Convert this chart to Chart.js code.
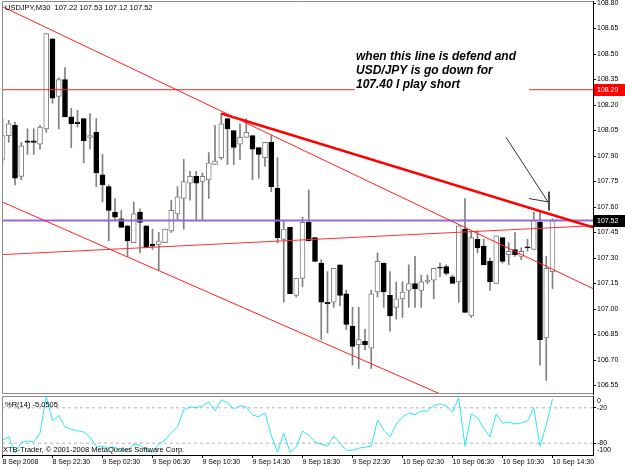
<!DOCTYPE html>
<html>
<head>
<meta charset="utf-8">
<script src="https://cdn.jsdelivr.net/npm/chart.js@4.4.1/dist/chart.umd.min.js"></script>
<style>
  html, body { margin: 0; padding: 0; background: #fff; }
  #wrap { position: relative; width: 625px; height: 469px; overflow: hidden; }
  canvas { position: absolute; left: 0; }
  #main { top: 0; }
  #wpr { top: 395px; }
</style>
</head>
<body>
<div id="wrap">
  <canvas id="main" width="625" height="395"></canvas>
  <canvas id="wpr" width="625" height="74"></canvas>
</div>
<script>
// USDJPY M30, 8 Sep 18:30 .. 10 Sep 14:30
const symbolTitle = 'USDJPY,M30  107.22 107.53 107.12 107.52';
const timeLabels = ['8 Sep 2008', '8 Sep 22:30', '9 Sep 02:30', '9 Sep 06:30', '9 Sep 10:30', '9 Sep 14:30',
    '9 Sep 18:30', '9 Sep 22:30', '10 Sep 02:30', '10 Sep 06:30', '10 Sep 10:30', '10 Sep 14:30'];
const timeLabelBars = [0, 8, 16, 24, 32, 40, 48, 56, 64, 72, 80, 88];

const opens = [107.88, 108.02, 108.08, 107.78, 107.99, 107.99, 107.97, 108.06, 108.59, 108.25,
    108.35, 108.13, 108.10, 108.12, 108.01, 108.04, 107.79, 107.72, 107.57, 107.53,
    107.49, 107.39, 107.57, 107.49, 107.38, 107.38, 107.39, 107.46, 107.56, 107.65,
    107.74, 107.78, 107.75, 107.76, 107.85, 107.89, 108.12, 108.05, 107.97, 108.01,
    108.02, 107.95, 107.89, 107.98, 107.71, 107.41, 107.48, 107.08, 107.18, 107.51,
    107.42, 107.27, 107.04, 107.04, 107.26, 107.09, 106.90, 106.79, 106.81, 106.77,
    107.10, 107.27, 107.08, 107.01, 107.06, 107.11, 107.15, 107.11, 107.16, 107.17,
    107.24, 107.25, 107.19, 107.16, 107.47, 106.96, 107.41, 107.37, 107.28, 107.15,
    107.42, 107.32, 107.35, 107.31, 107.36, 107.35, 107.51, 106.83, 107.22];
const highs = [108.12, 108.11, 108.10, 107.98, 108.06, 108.06, 108.08, 108.62, 108.59, 108.36,
    108.42, 108.18, 108.17, 108.12, 108.15, 108.12, 107.91, 107.73, 107.65, 107.58,
    107.49, 107.63, 107.59, 107.49, 107.47, 107.45, 107.47, 107.64, 107.72, 107.88,
    107.81, 107.81, 107.80, 107.92, 108.08, 108.15, 108.12, 108.05, 108.09, 108.12,
    108.02, 107.95, 107.98, 108.02, 107.89, 107.52, 107.48, 107.18, 107.54, 107.70,
    107.42, 107.29, 107.22, 107.24, 107.26, 107.11, 107.01, 107.01, 106.88, 107.11,
    107.33, 107.27, 107.22, 107.16, 107.16, 107.26, 107.31, 107.20, 107.20, 107.24,
    107.27, 107.26, 107.20, 107.49, 107.65, 107.46, 107.46, 107.41, 107.30, 107.43,
    107.42, 107.39, 107.45, 107.36, 107.41, 107.57, 107.57, 107.31, 107.53];
const lows = [107.86, 107.98, 107.73, 107.76, 107.91, 107.91, 107.94, 108.04, 108.21, 108.06,
    108.13, 107.95, 108.07, 107.86, 107.94, 107.72, 107.63, 107.40, 107.52, 107.48,
    107.31, 107.39, 107.33, 107.36, 107.35, 107.23, 107.39, 107.45, 107.52, 107.47,
    107.64, 107.52, 107.52, 107.65, 107.85, 107.88, 107.85, 107.85, 107.88, 108.01,
    107.76, 107.77, 107.84, 107.69, 107.39, 107.04, 107.09, 107.07, 107.13, 107.40,
    107.28, 106.82, 106.86, 107.01, 107.02, 106.88, 106.67, 106.65, 106.76, 106.65,
    107.07, 107.01, 106.87, 106.94, 106.95, 107.01, 107.01, 107.01, 107.15, 107.06,
    107.19, 107.20, 107.15, 107.04, 106.98, 106.95, 107.33, 107.26, 107.11, 107.15,
    107.27, 107.26, 107.31, 107.29, 107.34, 107.35, 106.67, 106.58, 107.12];
const closes = [108.02, 108.09, 107.77, 107.96, 107.98, 107.98, 108.07, 108.62, 108.24, 108.35,
    108.13, 108.09, 108.09, 107.99, 108.02, 107.80, 107.73, 107.58, 107.54, 107.48,
    107.40, 107.56, 107.51, 107.36, 107.37, 107.40, 107.47, 107.58, 107.66, 107.75,
    107.78, 107.74, 107.78, 107.86, 107.87, 108.09, 108.06, 107.95, 108.01, 108.04,
    107.94, 107.91, 107.98, 107.72, 107.42, 107.47, 107.09, 107.18, 107.51, 107.40,
    107.28, 107.04, 107.03, 107.24, 107.08, 106.91, 106.78, 106.82, 106.79, 107.09,
    107.28, 107.10, 106.96, 107.06, 107.10, 107.15, 107.12, 107.16, 107.17, 107.24,
    107.24, 107.21, 107.15, 107.49, 106.98, 107.42, 107.36, 107.26, 107.16, 107.43,
    107.28, 107.34, 107.32, 107.34, 107.36, 107.52, 106.82, 107.24, 107.52];

// Williams %R(14)
const wprValues = [-74.8, -69.2, -96.6, -78.8, -76.5, -78.3, -62.8, -0.7, -41.8, -33.2,
    -52.1, -56.5, -58.9, -61.1, -69.7, -85.1, -85.1, -88.5, -86.8, -92,
    -92, -81.7, -83.4, -92, -95.4, -81.7, -74.8, -62.8, -52.6, -23.5,
    -18.3, -20, -16.6, -9.8, -25.2, -6.3, -11.5, -21.7, -16.6, -18.3,
    -32, -35.4, -28.6, -66.3, -95.4, -62.8, -95.4, -86.8, -59.4, -66.3,
    -78.3, -81.7, -85.1, -68, -80, -92, -92, -88.5, -86.8, -85.1,
    -40.6, -57.7, -69.7, -47.4, -35.4, -28.6, -32, -25.2, -25.2, -16.6,
    -13.2, -16.6, -26.9, -2.9, -85.1, -30.3, -37.2, -54.3, -69.7, -30.3,
    -45.7, -44, -47.4, -45.7, -42.3, -20, -85.1, -49, -5.05];
const wprLabel = '%R(14) -5.0505';

const priceTicks = [108.80, 108.65, 108.50, 108.35, 108.20, 108.05, 107.90, 107.75,
    107.60, 107.45, 107.30, 107.15, 107.00, 106.85, 106.70, 106.55];
const wprLevels = [-20, -80];

// drawn objects, in (bar, price)
const shortLevel = 108.29;
const bidLevel = 107.52;
const upperChannel = [{x: -0.08, y: 108.78}, {x: 94.48, y: 107.12}];
const lowerChannel = [{x: -0.08, y: 107.63}, {x: 75, y: 106.42}];
const resistance = [{x: 35, y: 108.15}, {x: 94.48, y: 107.48}];
const risingLine = [{x: -0.08, y: 107.32}, {x: 94.48, y: 107.49}];
const arrowShaft = [{x: 80.56, y: 108.01}, {x: 87.28, y: 107.63}];
const arrowHead = [{x: 84.24, y: 107.65}, {x: 87.28, y: 107.63}];
const arrowTick = [{x: 87.44, y: 107.69}, {x: 87.44, y: 107.58}];
const noteLines = ['when this line is defend and', 'USD/JPY is go down for', '107.40 I play short'];

const xMin = -0.08, xMax = 94.48;
const smallFont = {family: 'Liberation Sans', size: 7};

function lineSet(points, color, width, dash) {
    return {
        type: 'line', data: points, borderColor: color, borderWidth: width,
        borderDash: dash || [], pointRadius: 0, fill: false, tension: 0, order: 0
    };
}

let bars = opens.map((o, i) => i);
let isUp = bars.map(i => closes[i] > opens[i]);

let mainDecor = {
    id: 'mainDecor',
    afterDraw(chart) {
        let ctx = chart.ctx;
        let a = chart.chartArea;
        let y = chart.scales.y;
        ctx.save();
        ctx.strokeStyle = '#8a8a8a';
        ctx.lineWidth = 1;
        ctx.beginPath();
        ctx.moveTo(a.left + 0.5, a.bottom);
        ctx.lineTo(a.left + 0.5, a.top + 0.5);
        ctx.lineTo(a.right, a.top + 0.5);
        ctx.moveTo(a.left, a.bottom - 0.5);
        ctx.lineTo(a.right, a.bottom - 0.5);
        ctx.stroke();

        ctx.fillStyle = '#000';
        ctx.textAlign = 'left';
        ctx.textBaseline = 'middle';
        ctx.font = '7.5px "Liberation Sans"';
        ctx.fillText(symbolTitle, 5, 8);

        ctx.font = 'italic bold 12px "Liberation Sans"';
        noteLines.forEach((t, k) => ctx.fillText(t, 356, 57 + k * 14));

        // price tags on the axis
        [[shortLevel, '#ff0000'], [bidLevel, '#000000']].forEach(([v, c]) => {
            let py = Math.round(y.getPixelForValue(v));
            ctx.fillStyle = c;
            ctx.fillRect(a.right + 1, py - 6, 32, 12);
            ctx.fillStyle = '#fff';
            ctx.font = '7px "Liberation Sans"';
            ctx.fillText(v.toFixed(2), a.right + 4, py);
        });
        ctx.restore();
    }
};

new Chart(document.getElementById('main'), {
    type: 'bar',
    data: {
        datasets: [
            lineSet(upperChannel, '#ff2020', 1),
            lineSet(lowerChannel, '#ff2020', 1),
            lineSet(resistance, '#ff0000', 2.5),
            lineSet(risingLine, '#ff3030', 1),
            lineSet([{x: xMin, y: shortLevel}, {x: 56.4, y: shortLevel}], '#ff2020', 1),
            lineSet([{x: 84.24, y: shortLevel}, {x: xMax, y: shortLevel}], '#ff2020', 1),
            lineSet([{x: xMin, y: bidLevel}, {x: xMax, y: bidLevel}], '#9966dd', 2),
            lineSet(arrowShaft, '#333', 1),
            lineSet(arrowHead, '#333', 1),
            lineSet(arrowTick, '#333', 1),
            {
                data: bars.map(i => ({x: i, y: [opens[i], closes[i]]})),
                grouped: false, barThickness: 5, minBarLength: 1,
                backgroundColor: isUp.map(u => u ? '#ffffff' : '#000000'),
                borderColor: isUp.map(u => u ? '#808080' : '#000000'),
                borderWidth: 1, borderSkipped: false, order: 1
            },
            {
                data: bars.map(i => ({x: i, y: [lows[i], highs[i]]})),
                grouped: false, barThickness: 1,
                backgroundColor: '#808080', borderWidth: 0, order: 2
            }
        ]
    },
    options: {
        responsive: false, animation: false, devicePixelRatio: 1, events: [],
        layout: {padding: {left: 2, top: 1, right: 0, bottom: 1}},
        plugins: {legend: {display: false}, tooltip: {enabled: false}},
        scales: {
            x: {type: 'linear', min: xMin, max: xMax, offset: false, display: false},
            y: {
                position: 'right', min: 106.50, max: 108.812,
                afterFit: s => { s.width = 32; s.paddingTop = 0; s.paddingBottom = 0; },
                afterBuildTicks: s => { s.ticks = priceTicks.map(v => ({value: v})); },
                ticks: {callback: v => v.toFixed(2), font: smallFont, color: '#000', padding: 1, autoSkip: false},
                grid: {drawOnChartArea: false, tickLength: 3, color: '#000'},
                border: {color: '#000'}
            }
        }
    },
    plugins: [mainDecor]
});

let wprDecor = {
    id: 'wprDecor',
    afterDraw(chart) {
        let ctx = chart.ctx;
        let a = chart.chartArea;
        ctx.save();
        ctx.strokeStyle = '#8a8a8a';
        ctx.lineWidth = 1;
        ctx.beginPath();
        ctx.moveTo(a.left + 0.5, a.bottom);
        ctx.lineTo(a.left + 0.5, a.top + 0.5);
        ctx.lineTo(a.right, a.top + 0.5);
        ctx.stroke();

        ctx.fillStyle = '#000';
        ctx.textAlign = 'left';
        ctx.textBaseline = 'middle';
        ctx.font = '7.5px "Liberation Sans"';
        ctx.fillText(wprLabel, 5, a.top + 8.5);
        ctx.fillText('XTB-Trader, \u00a9 2001-2008 MetaQuotes Software Corp.', 3, a.bottom - 5);

        ctx.font = '7px "Liberation Sans"';
        ctx.fillText('0', a.right + 4, a.top + 4.7);
        ctx.fillText('-100', a.right + 4, a.bottom - 5);
        ctx.restore();
    }
};

new Chart(document.getElementById('wpr'), {
    type: 'line',
    data: {
        datasets: [
            lineSet(wprValues.map((v, i) => ({x: i, y: v})), '#30e6f4', 1),
            lineSet([{x: xMin, y: wprLevels[0]}, {x: xMax, y: wprLevels[0]}], '#b4b4b4', 1, [3, 3]),
            lineSet([{x: xMin, y: wprLevels[1]}, {x: xMax, y: wprLevels[1]}], '#b4b4b4', 1, [3, 3])
        ]
    },
    options: {
        responsive: false, animation: false, devicePixelRatio: 1, events: [],
        layout: {padding: {left: 2, top: 1, right: 0, bottom: 0}},
        plugins: {legend: {display: false}, tooltip: {enabled: false}},
        scales: {
            x: {
                type: 'linear', min: xMin, max: xMax, offset: false, position: 'bottom',
                afterBuildTicks: s => { s.ticks = timeLabelBars.map(v => ({value: v})); },
                afterFit: s => { s.height = 14; s.paddingLeft = 0; s.paddingRight = 0; },
                ticks: {
                    callback: (v, k) => timeLabels[k], align: 'start', maxRotation: 0, minRotation: 0,
                    autoSkip: false, padding: 0, font: smallFont, color: '#000'
                },
                grid: {drawOnChartArea: false, tickLength: 3, color: '#000'},
                border: {color: '#000'}
            },
            y: {
                position: 'right', min: -100, max: 0,
                afterFit: s => { s.width = 32; s.paddingTop = 0; s.paddingBottom = 0; },
                afterBuildTicks: s => { s.ticks = wprLevels.map(v => ({value: v})); },
                ticks: {callback: v => String(v), font: smallFont, color: '#000', padding: 1},
                grid: {drawOnChartArea: false, tickLength: 3, color: '#000'},
                border: {color: '#000'}
            }
        }
    },
    plugins: [wprDecor]
});
</script>
</body>
</html>
